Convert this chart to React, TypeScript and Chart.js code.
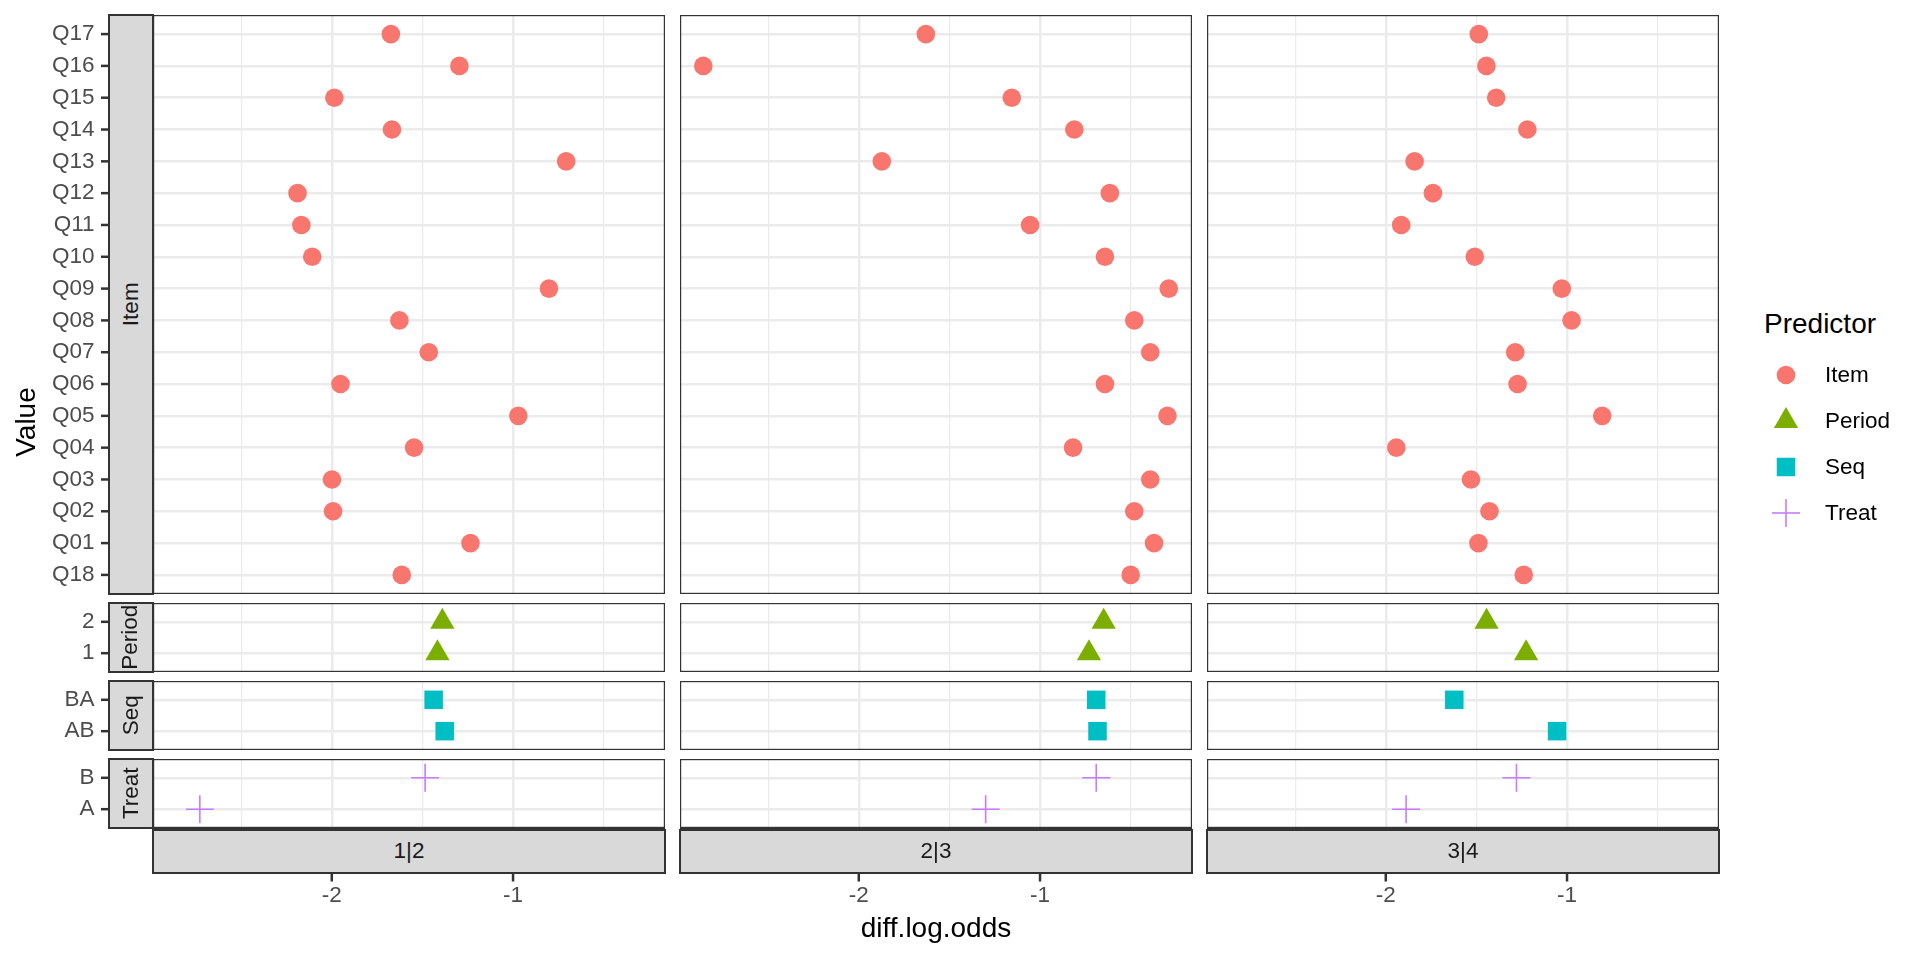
import React, { useEffect, useRef } from 'react';
import { Chart, registerables } from 'chart.js';

Chart.register(...registerables);

// ---------- data ----------
const facetLabels = ['1|2', '2|3', '3|4'];
const rowNames = ['Item', 'Period', 'Seq', 'Treat'];

// bottom -> top order
const itemLabels = ['Q18', 'Q01', 'Q02', 'Q03', 'Q04', 'Q05', 'Q06', 'Q07', 'Q08', 'Q09', 'Q10', 'Q11', 'Q12', 'Q13', 'Q14', 'Q15', 'Q16', 'Q17'];
const periodLabels = ['1', '2'];
const seqLabels = ['AB', 'BA'];
const treatLabels = ['A', 'B'];

const item12 = [-1.614, -1.235, -1.993, -1.999, -1.546, -0.971, -1.952, -1.465, -1.627, -0.802, -2.108, -2.168, -2.189, -0.707, -1.668, -1.986, -1.296, -1.674];
const item23 = [-0.500, -0.371, -0.480, -0.392, -0.818, -0.297, -0.642, -0.392, -0.480, -0.290, -0.642, -1.055, -0.615, -1.873, -0.811, -1.156, -2.858, -1.630];
const item34 = [-1.239, -1.489, -1.428, -1.530, -1.942, -0.806, -1.273, -1.286, -0.975, -1.029, -1.509, -1.915, -1.740, -1.841, -1.219, -1.391, -1.445, -1.487];

const period12 = [-1.417, -1.390];
const period23 = [-0.730, -0.649];
const period34 = [-1.226, -1.444];

const seq12 = [-1.377, -1.438];
const seq23 = [-0.683, -0.690];
const seq34 = [-1.055, -1.622];

const treat12 = [-2.728, -1.485];
const treat23 = [-1.300, -0.690];
const treat34 = [-1.888, -1.279];

const xGridValues = [-2.5, -2, -1.5, -1, -0.5];

const predictorNames = ['Item', 'Period', 'Seq', 'Treat'];
const predictorColors = ['#F8766D', '#7CAE00', '#00BFC4', '#C77CFF'];

// ---------- layout ----------
const FONT = "'Liberation Sans', Arial, Helvetica, sans-serif";
const PANEL_LEFT = [153, 680, 1207];
const PANEL_W = 512;
const ROW_TOP = [15, 603, 681, 759];
const ROW_H = [579, 69, 69, 69];
const BOTTOM_EXT = 100;
const SMALL = 22.5;
const TITLE = 28;

const rowLabels = [itemLabels, periodLabels, seqLabels, treatLabels];
const rowValues = [
  [item12, item23, item34],
  [period12, period23, period34],
  [seq12, seq23, seq34],
  [treat12, treat23, treat34],
];

const allValues = rowValues.flat(2);
const dMin = Math.min(...allValues);
const dMax = Math.max(...allValues);
const X_MIN = dMin - 0.05 * (dMax - dMin);
const X_MAX = dMax + 0.05 * (dMax - dMin);

function pointStyleFor(r: number) {
  const color = predictorColors[r];
  if (r === 0) return { pointStyle: 'circle', pointRadius: 9.3, backgroundColor: color, borderColor: color, borderWidth: 0 };
  if (r === 1) return { pointStyle: 'triangle', pointRadius: 14, backgroundColor: color, borderColor: color, borderWidth: 0 };
  if (r === 2) return { pointStyle: 'rect', pointRadius: 13.1, backgroundColor: color, borderColor: color, borderWidth: 0 };
  return { pointStyle: 'cross', pointRadius: 14, backgroundColor: color, borderColor: color, borderWidth: 1.6 };
}

function makePlugin(c: number, r: number) {
  return {
    id: 'panelDeco' + c + r,
    afterDatasetsDraw(chart: any) {
      const { ctx, chartArea: a } = chart;
      ctx.save();
      ctx.strokeStyle = '#333333';
      ctx.lineWidth = 2.4;
      ctx.strokeRect(a.left, a.top, a.right - a.left, a.bottom - a.top);
      ctx.lineWidth = 2.5;
      if (c === 0) {
        const ys = chart.scales.y;
        rowLabels[r].forEach((_, i) => {
          const y = ys.getPixelForValue(i);
          ctx.beginPath();
          ctx.moveTo(a.left - 52, y);
          ctx.lineTo(a.left - 45, y);
          ctx.stroke();
        });
      }
      if (r === 3) {
        const xs = chart.scales.x;
        xGridValues.filter((v) => Number.isInteger(v)).forEach((v) => {
          const x = xs.getPixelForValue(v);
          ctx.beginPath();
          ctx.moveTo(x, a.bottom + 46);
          ctx.lineTo(x, a.bottom + 53.5);
          ctx.stroke();
        });
      }
      ctx.restore();
    },
  };
}

function buildChart(canvas: HTMLCanvasElement, c: number, r: number) {
  const labels = rowLabels[r];
  const values = rowValues[r][c];
  const data = values.map((v, i) => ({ x: v, y: i }));
  return new Chart(canvas, {
    type: 'scatter',
    data: { datasets: [{ data, ...pointStyleFor(r) } as any] },
    options: {
      animation: false,
      responsive: false,
      maintainAspectRatio: false,
      events: [],
      layout: { padding: 0, autoPadding: false } as any,
      plugins: { legend: { display: false }, tooltip: { enabled: false } },
      scales: {
        x: {
          type: 'linear',
          position: 'bottom',
          min: X_MIN,
          max: X_MAX,
          afterBuildTicks: (s: any) => {
            s.ticks = xGridValues.map((v) => ({ value: v }));
          },
          afterFit: (s: any) => {
            s.height = r === 3 ? BOTTOM_EXT : 0;
            s.paddingLeft = 0;
            s.paddingRight = 0;
          },
          grid: {
            color: '#EBEBEB',
            lineWidth: (ctx: any) => (Number.isInteger(ctx.tick?.value) ? 2.5 : 1.25),
            drawTicks: false,
          },
          border: { display: false },
          ticks: {
            display: r === 3,
            padding: 54,
            color: '#4D4D4D',
            font: { family: FONT, size: SMALL },
            autoSkip: false,
            maxRotation: 0,
            callback: (v: any) => (Number.isInteger(v) ? String(v) : ''),
          },
        },
        y: {
          type: 'linear',
          position: 'left',
          min: -0.6,
          max: labels.length - 0.4,
          afterBuildTicks: (s: any) => {
            s.ticks = labels.map((_, i) => ({ value: i }));
          },
          afterFit: (s: any) => {
            s.width = c === 0 ? PANEL_LEFT[0] : 0;
            s.paddingTop = 0;
            s.paddingBottom = 0;
          },
          grid: { color: '#EBEBEB', lineWidth: 2.5, drawTicks: false },
          border: { display: false },
          ticks: {
            display: c === 0,
            padding: PANEL_LEFT[0] - 94.5,
            color: '#4D4D4D',
            font: { family: FONT, size: SMALL },
            autoSkip: false,
            callback: (v: any) => labels[v] ?? '',
          },
        },
      } as any,
    },
    plugins: [makePlugin(c, r)],
  });
}

const cells: { c: number; r: number }[] = [];
for (let r = 0; r < 4; r++) for (let c = 0; c < 3; c++) cells.push({ c, r });

export default function App() {
  const refs = useRef<(HTMLCanvasElement | null)[]>([]);

  useEffect(() => {
    const charts = cells.map(({ c, r }, k) => buildChart(refs.current[k] as HTMLCanvasElement, c, r));
    return () => charts.forEach((ch) => ch.destroy());
  }, []);

  const stripStyle: React.CSSProperties = {
    position: 'absolute',
    boxSizing: 'border-box',
    background: '#D9D9D9',
    border: '2.4px solid #333333',
    color: '#1A1A1A',
    fontFamily: FONT,
    fontSize: SMALL,
    lineHeight: 1,
    display: 'flex',
    alignItems: 'center',
    justifyContent: 'center',
    whiteSpace: 'nowrap',
  };

  const keyY = [375, 421, 467, 513];
  const keyX = 1786;

  return (
    <div style={{ position: 'absolute', left: 0, top: 0, width: 1920, height: 960, background: '#FFFFFF', overflow: 'hidden', fontFamily: FONT }}>
      {cells.map(({ c, r }, k) => {
        const left = c === 0 ? 0 : PANEL_LEFT[c];
        const w = PANEL_W + (c === 0 ? PANEL_LEFT[0] : 0);
        const h = ROW_H[r] + (r === 3 ? BOTTOM_EXT : 0);
        return (
          <canvas
            key={k}
            ref={(el) => { refs.current[k] = el; }}
            width={w}
            height={h}
            style={{ position: 'absolute', left, top: ROW_TOP[r], width: w, height: h }}
          />
        );
      })}

      {rowNames.map((name, r) => (
        <div key={'rs' + r} style={{ ...stripStyle, left: 108, top: ROW_TOP[r] - 1, width: 46, height: ROW_H[r] + 2 }}>
          <span style={{ display: 'inline-block', transform: 'rotate(-90deg)' }}>{name}</span>
        </div>
      ))}

      {facetLabels.map((name, c) => (
        <div key={'cs' + c} style={{ ...stripStyle, left: PANEL_LEFT[c] - 1, top: 829, width: PANEL_W + 2, height: 45 }}>
          {name}
        </div>
      ))}

      <div style={{ position: 'absolute', left: 936, top: 913.6, transform: 'translateX(-50%)', fontSize: TITLE, lineHeight: `${TITLE}px`, color: '#000', whiteSpace: 'nowrap' }}>
        diff.log.odds
      </div>
      <div style={{ position: 'absolute', left: 26, top: 421.5, transform: 'translate(-50%, -50%) rotate(-90deg)', fontSize: TITLE, lineHeight: `${TITLE}px`, color: '#000', whiteSpace: 'nowrap' }}>
        Value
      </div>

      <div style={{ position: 'absolute', left: 1764, top: 309.5, fontSize: TITLE, lineHeight: `${TITLE}px`, color: '#000', whiteSpace: 'nowrap' }}>
        Predictor
      </div>
      <svg width={1920} height={960} style={{ position: 'absolute', left: 0, top: 0, pointerEvents: 'none' }}>
        <circle cx={keyX} cy={keyY[0]} r={9.3} fill={predictorColors[0]} />
        <polygon
          points={`${keyX},${keyY[1] - 14} ${keyX + 12.12},${keyY[1] + 7} ${keyX - 12.12},${keyY[1] + 7}`}
          fill={predictorColors[1]}
        />
        <rect x={keyX - 9.25} y={keyY[2] - 9.25} width={18.5} height={18.5} fill={predictorColors[2]} />
        <line x1={keyX - 14} y1={keyY[3]} x2={keyX + 14} y2={keyY[3]} stroke={predictorColors[3]} strokeWidth={1.6} />
        <line x1={keyX} y1={keyY[3] - 14} x2={keyX} y2={keyY[3] + 14} stroke={predictorColors[3]} strokeWidth={1.6} />
      </svg>
      {predictorNames.map((name, i) => (
        <div key={'lg' + i} style={{ position: 'absolute', left: 1825, top: keyY[i] - 11, fontSize: SMALL, lineHeight: `${SMALL}px`, color: '#000', whiteSpace: 'nowrap' }}>
          {name}
        </div>
      ))}
    </div>
  );
}
